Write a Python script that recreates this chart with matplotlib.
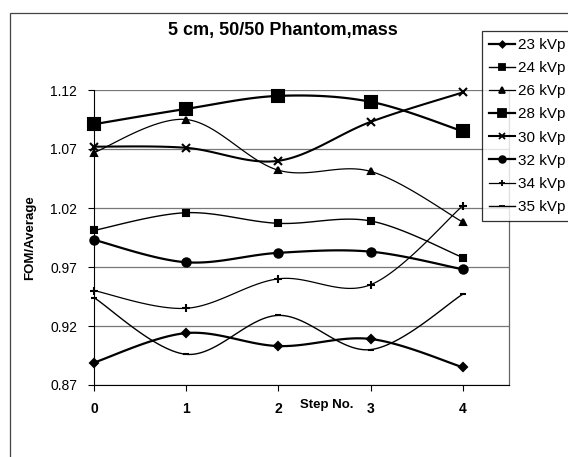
import numpy as np
import matplotlib.pyplot as plt
from matplotlib.lines import Line2D
from matplotlib.patches import Rectangle

plt.rcParams['font.family'] = ['Liberation Sans', 'DejaVu Sans']

# Données
steps = [0, 1, 2, 3, 4]
kvp_23 = [0.889, 0.914, 0.903, 0.909, 0.885]
kvp_24 = [1.001, 1.016, 1.007, 1.009, 0.978]
kvp_26 = [1.067, 1.095, 1.052, 1.051, 1.008]
kvp_28 = [1.091, 1.104, 1.115, 1.110, 1.085]
kvp_30 = [1.072, 1.071, 1.060, 1.093, 1.118]
kvp_32 = [0.993, 0.974, 0.982, 0.983, 0.968]
kvp_34 = [0.950, 0.935, 0.960, 0.955, 1.022]
kvp_35 = [0.944, 0.896, 0.929, 0.900, 0.947]
y_ticks = [0.87, 0.92, 0.97, 1.02, 1.07, 1.12]


def lissage(x, y, n=30):
    # courbe lissée type Excel (Catmull-Rom / Bezier)
    x = np.asarray(x, float)
    y = np.asarray(y, float)
    px = np.concatenate([[x[0]], x, [x[-1]]])
    py = np.concatenate([[y[0]], y, [y[-1]]])
    xs, ys = [], []
    t = np.linspace(0, 1, n)
    for i in range(1, len(px) - 2):
        p0 = np.array([px[i], py[i]])
        p3 = np.array([px[i + 1], py[i + 1]])
        p1 = p0 + (np.array([px[i + 1], py[i + 1]]) - np.array([px[i - 1], py[i - 1]])) / 6
        p2 = p3 - (np.array([px[i + 2], py[i + 2]]) - np.array([px[i], py[i]])) / 6
        b = ((1 - t) ** 3)[:, None] * p0 + (3 * (1 - t) ** 2 * t)[:, None] * p1 \
            + (3 * (1 - t) * t ** 2)[:, None] * p2 + (t ** 3)[:, None] * p3
        xs.extend(b[:, 0])
        ys.extend(b[:, 1])
    return xs, ys


series = [
    ('23 kVp', kvp_23, 'D', 4, 1.6),
    ('24 kVp', kvp_24, 's', 5, 1.0),
    ('26 kVp', kvp_26, '^', 5, 0.9),
    ('28 kVp', kvp_28, 's', 8, 1.6),
    ('30 kVp', kvp_30, 'x', 6, 1.5),
    ('32 kVp', kvp_32, 'o', 6, 1.6),
    ('34 kVp', kvp_34, '+', 6, 0.9),
    ('35 kVp', kvp_35, '_', 5, 1.0),
]

fig = plt.figure(figsize=(5.68, 4.57), dpi=100)
ax = fig.add_axes([94 / 568, 1 - 385 / 457, (509 - 94) / 568, (385 - 90) / 457])

handles = []
for nom, vals, mk, ms, lw in series:
    xs, ys = lissage(steps, vals)
    ax.plot(xs, ys, color='black', lw=lw, zorder=3)
    ax.plot(steps, vals, ls='none', marker=mk, ms=ms, color='black',
            mew=1.5, zorder=4, clip_on=False)
    handles.append(Line2D([], [], color='black', lw=lw, marker=mk, ms=ms * 0.8,
                          mew=1.3, label=nom))

ax.set_xlim(0, 4.5)
ax.set_ylim(0.87, 1.12)
ax.set_xticks(steps)
ax.set_yticks(y_ticks)
ax.set_yticklabels([f'{v:.2f}' for v in y_ticks], fontsize=10)
ax.set_xticklabels([str(s) for s in steps], fontsize=10, fontweight='bold')
ax.tick_params(direction='out', length=4, width=0.8, pad=8)
ax.grid(axis='y', color='#777777', lw=0.9)

for cote in ['top', 'right']:
    ax.spines[cote].set_color('#666666')
    ax.spines[cote].set_linewidth(0.9)
ax.spines['top'].set_visible(False)

ax.text(2.52, -0.068, 'Step No.', transform=ax.get_xaxis_transform(),
        ha='center', va='center', fontsize=9.5, fontweight='bold')
fig.text(30 / 568, 1 - 238 / 457, 'FOM/Average', rotation=90, ha='center',
         va='center', fontsize=9.5, fontweight='bold')
fig.text(283 / 568, 1 - 31 / 457, '5 cm, 50/50 Phantom,mass', ha='center',
         va='center', fontsize=13, fontweight='bold')

leg = fig.legend(handles=handles, loc='upper left',
                 bbox_to_anchor=(482 / 568, 1 - 31 / 457), frameon=True,
                 fancybox=False, edgecolor='black', fontsize=11,
                 handlelength=1.7, handletextpad=0.2, labelspacing=0.6,
                 borderpad=0.45, borderaxespad=0)
leg.get_frame().set_linewidth(0.9)

# cadre de la zone du graphique
fig.patches.append(Rectangle((10 / 568, -0.1), 1.2, 1.1 - 13 / 457,
                             transform=fig.transFigure, fill=False,
                             edgecolor='#444444', lw=0.9))

fig.savefig('out.png', dpi=100)
